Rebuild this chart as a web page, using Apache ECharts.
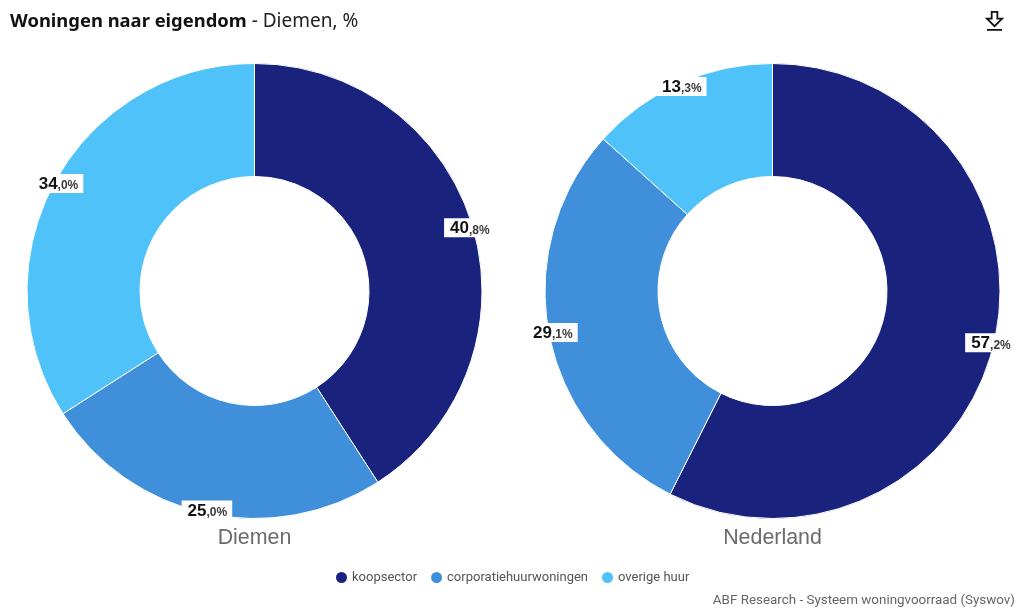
<!DOCTYPE html>
<html>
<head>
<meta charset="utf-8">
<style>html,body{margin:0;padding:0;background:#fff}#chart{width:1017px;height:608px}</style>
<script src="https://cdn.jsdelivr.net/npm/echarts@6/dist/echarts.min.js"></script>
</head>
<body>
<div id="chart"></div>
<script>
// Ownership split of the housing stock, Diemen against the Netherlands
const categories = ['koopsector', 'corporatiehuurwoningen', 'overige huur'];
const diemen = [40.8, 25.0, 34.0];
const nederland = [57.2, 29.1, 13.3];
const areas = ['Diemen', 'Nederland'];
const colors = ['#19227D', '#3F8FDB', '#4FC3F9'];

const centers = [[254.5, 291], [772.5, 291]];
const outer = 227.5, inner = 114.5, labelRadius = 221;

const toData = vals => vals.map((v, i) => ({ name: categories[i], value: v }));

// Value label in Dutch notation: whole part large, decimals and % small
function valueLabel(p) {
  const parts = p.value.toFixed(1).split('.');
  return '{a|' + parts[0] + '}{b|,' + parts[1] + '%}';
}

function ring(vals, center) {
  return {
    type: 'pie', center, radius: [inner, outer], startAngle: 90, clockwise: true,
    silent: true, animation: false,
    itemStyle: { borderColor: '#fff', borderWidth: 1 },
    label: { show: false }, labelLine: { show: false },
    data: toData(vals)
  };
}

// Zero-width ring just inside the rim, so each label centres there at its slice's mid-angle
function rimLabels(vals, center) {
  return {
    type: 'pie', center, radius: [labelRadius, labelRadius], startAngle: 90, clockwise: true,
    silent: true, animation: false, avoidLabelOverlap: false,
    itemStyle: { color: 'transparent', borderWidth: 0 },
    labelLine: { show: false },
    label: {
      show: true, position: 'inside', formatter: valueLabel,
      backgroundColor: '#fff', padding: [1, 5, 0, 6],
      rich: {
        a: { fontFamily: 'Liberation Sans', fontWeight: 'bold', fontSize: 17, color: '#111', verticalAlign: 'bottom', lineHeight: 18 },
        b: { fontFamily: 'Liberation Sans', fontWeight: 'bold', fontSize: 12, color: '#3a3a3a', verticalAlign: 'bottom', lineHeight: 17, padding: [0, 0, 1, 0] }
      }
    },
    data: toData(vals)
  };
}

const chart = echarts.init(document.getElementById('chart'), null, { renderer: 'canvas' });
chart.setOption({
  animation: false,
  color: colors,
  title: [
    {
      left: 10, top: 12, padding: 0,
      text: '{h|Woningen naar eigendom}{s| - Diemen, %}',
      textStyle: {
        rich: {
          h: { fontFamily: 'Noto Sans', fontWeight: 'bold', fontSize: 18.4, color: '#111' },
          s: { fontFamily: 'Noto Sans', fontWeight: 'normal', fontSize: 19, color: '#222' }
        }
      }
    },
    { text: areas[0], left: centers[0][0], top: 528, padding: 0, textAlign: 'center',
      textStyle: { fontFamily: 'Liberation Sans', fontWeight: 'normal', fontSize: 21.4, color: '#6b6b6b' } },
    { text: areas[1], left: centers[1][0], top: 528, padding: 0, textAlign: 'center',
      textStyle: { fontFamily: 'Liberation Sans', fontWeight: 'normal', fontSize: 21.4, color: '#6b6b6b' } },
    { text: 'ABF Research - Systeem woningvoorraad (Syswov)', right: 2, top: 594, padding: 0,
      textStyle: { fontFamily: 'Roboto', fontWeight: 'normal', fontSize: 13.4, color: '#666' } }
  ],
  legend: {
    data: categories, top: 570, left: 334, itemGap: 12,
    icon: 'circle', itemWidth: 13, itemHeight: 13, selectedMode: false, padding: 0,
    textStyle: { fontFamily: 'Roboto', fontSize: 13, color: '#555', padding: [0, 0, 0, -1] }
  },
  toolbox: {
    right: 14, top: 11, itemSize: 18, padding: 0,
    feature: {
      saveAsImage: {
        title: '',
        icon: 'path://M7 1H13V8H18L10 16L2 8H7ZM2 20H18',
        iconStyle: { color: 'transparent', borderColor: '#111', borderWidth: 1.8 }
      }
    }
  },
  series: [
    ring(diemen, centers[0]), ring(nederland, centers[1]),
    rimLabels(diemen, centers[0]), rimLabels(nederland, centers[1])
  ]
});
</script>
</body>
</html>
